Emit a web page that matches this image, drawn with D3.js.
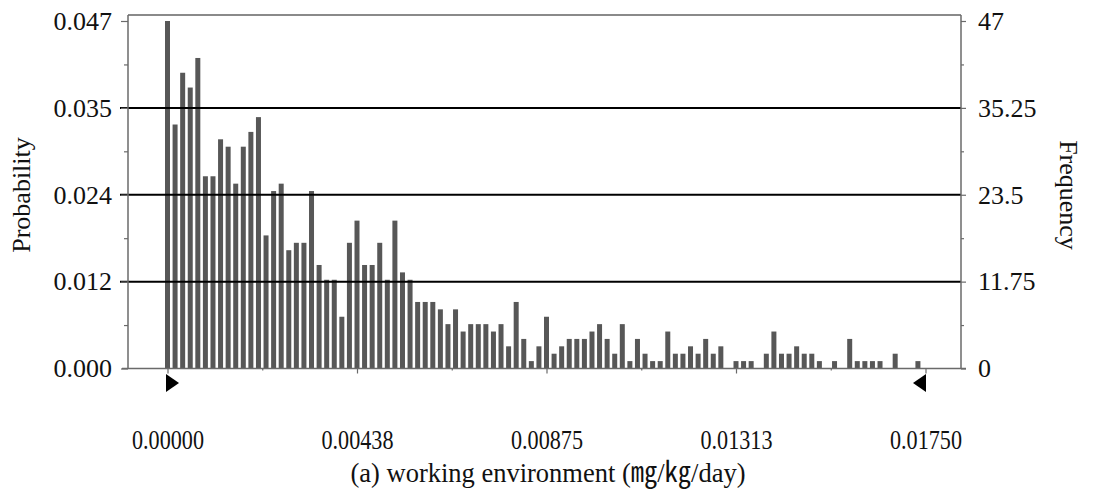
<!DOCTYPE html>
<html>
<head>
<meta charset="utf-8">
<script src="https://cdn.jsdelivr.net/npm/d3@7"></script>
<style>
  body { margin: 0; background: #fff; }
  text { font-family: "Liberation Serif", "Times New Roman", "Noto Sans CJK KR", serif; fill: #111; }
</style>
</head>
<body>
<div id="chart"></div>
<script>
// histogram of 100 bins, frequency per bin
var binWidth = 0.000175;
var frequencies = [
  47, 33, 40, 38, 42, 26, 26, 31, 30, 25,
  30, 32, 34, 18, 24, 25, 16, 17, 17, 24,
  14, 12, 12, 7, 17, 20, 14, 14, 17, 12,
  20, 13, 12, 9, 9, 9, 8, 6, 8, 5,
  6, 6, 6, 5, 6, 3, 9, 4, 1, 3,
  7, 2, 3, 4, 4, 4, 5, 6, 4, 2,
  6, 1, 4, 2, 1, 1, 5, 2, 2, 3,
  2, 4, 2, 3, 0, 1, 1, 1, 0, 2,
  5, 2, 2, 3, 2, 2, 1, 0, 1, 0,
  4, 1, 1, 1, 1, 0, 2, 0, 0, 1
];

var xTickValues = [0, 0.004375, 0.00875, 0.013125, 0.0175];
var xTickLabels = ["0.00000", "0.00438", "0.00875", "0.01313", "0.01750"];
var yTickValues = [0, 11.75, 23.5, 35.25, 47];
var probLabels = ["0.000", "0.012", "0.024", "0.035", "0.047"];
var freqLabels = ["0", "11.75", "23.5", "35.25", "47"];
var gridValues = [11.75, 23.5, 35.25];

var svgWidth = 1093;
var svgHeight = 496;

var plot = { left: 128, right: 961, top: 15, bottom: 368.5 };

var svg = d3.select("#chart")
  .append("svg")
  .attr("width", svgWidth)
  .attr("height", svgHeight);

var xScale = d3.scaleLinear()
  .domain([0, 0.0175])
  .range([167.5, 925.5]);

var yScale = d3.scaleLinear()
  .domain([0, 47])
  .range([plot.bottom, 21]);

// minor tick positions (midpoints)
var yMinor = [5.875, 17.625, 29.375, 41.125];
var xMinor = [0.0021875, 0.0065625, 0.0109375, 0.0153125];

// bars
svg.append("g")
  .selectAll("rect")
  .data(frequencies)
  .enter()
  .append("rect")
  .attr("x", (d, i) => xScale(i * binWidth) - 2.5)
  .attr("y", d => yScale(d))
  .attr("width", 5)
  .attr("height", d => yScale(0) - yScale(d))
  .attr("fill", "#575757");

// grid lines
svg.append("g")
  .selectAll("line")
  .data(gridValues)
  .enter()
  .append("line")
  .attr("x1", 120)
  .attr("x2", plot.right)
  .attr("y1", d => yScale(d))
  .attr("y2", d => yScale(d))
  .attr("stroke", "#000")
  .attr("stroke-width", 2);

// frame top
svg.append("line")
  .attr("x1", plot.left).attr("x2", plot.right)
  .attr("y1", plot.top).attr("y2", plot.top)
  .attr("stroke", "#8a8a8a").attr("stroke-width", 2);

// left axis
var leftAxis = d3.axisLeft(yScale)
  .tickValues(yTickValues)
  .tickSize(7)
  .tickPadding(9)
  .tickFormat((d, i) => probLabels[i]);

var leftG = svg.append("g")
  .attr("transform", `translate(${plot.left}, 0)`)
  .call(leftAxis);

svg.append("g")
  .attr("transform", `translate(${plot.left}, 0)`)
  .call(d3.axisLeft(yScale).tickValues(yMinor).tickSize(4).tickFormat(""));

// right axis
var rightAxis = d3.axisRight(yScale)
  .tickValues(yTickValues)
  .tickSize(5)
  .tickPadding(12)
  .tickFormat((d, i) => freqLabels[i]);

var rightG = svg.append("g")
  .attr("transform", `translate(${plot.right}, 0)`)
  .call(rightAxis);

svg.append("g")
  .attr("transform", `translate(${plot.right}, 0)`)
  .call(d3.axisRight(yScale).tickValues(yMinor).tickSize(3).tickFormat(""));

// bottom axis
var bottomAxis = d3.axisBottom(xScale)
  .tickValues(xTickValues)
  .tickSize(5)
  .tickPadding(56)
  .tickFormat((d, i) => xTickLabels[i]);

var bottomG = svg.append("g")
  .attr("transform", `translate(0, ${plot.bottom})`)
  .call(bottomAxis);

svg.append("g")
  .attr("transform", `translate(0, ${plot.bottom})`)
  .call(d3.axisBottom(xScale).tickValues(xMinor).tickSize(2).tickFormat(""));

svg.selectAll(".domain").remove();

svg.append("line")
  .attr("x1", 122).attr("x2", 966)
  .attr("y1", plot.bottom).attr("y2", plot.bottom)
  .attr("stroke", "#6a6a6a").attr("stroke-width", 1.5);

svg.append("line")
  .attr("x1", plot.left).attr("x2", plot.left)
  .attr("y1", plot.top).attr("y2", plot.bottom)
  .attr("stroke", "#6a6a6a").attr("stroke-width", 1.5);

svg.append("line")
  .attr("x1", plot.right).attr("x2", plot.right)
  .attr("y1", plot.top).attr("y2", plot.bottom)
  .attr("stroke", "#6a6a6a").attr("stroke-width", 1.5);

svg.selectAll(".tick line").attr("stroke", "#6a6a6a").attr("stroke-width", 1.2);

svg.selectAll(".tick text")
  .attr("font-size", "26px")
  .attr("fill", "#111");

bottomG.selectAll(".tick text")
  .attr("font-size", "28px")
  .attr("textLength", 72)
  .attr("lengthAdjust", "spacingAndGlyphs");

// range markers
var tri = svg.append("g");
tri.append("path")
  .attr("d", `M${xScale(0) - 1.5},374 L${xScale(0) - 1.5},392 L${xScale(0) + 11.5},383 Z`)
  .attr("fill", "#000");
tri.append("path")
  .attr("d", `M${xScale(0.0175) + 0.5},374 L${xScale(0.0175) + 0.5},392 L${xScale(0.0175) - 12.5},383 Z`)
  .attr("fill", "#000");

// axis titles
svg.append("text")
  .attr("transform", "translate(30, 195) rotate(-90)")
  .attr("text-anchor", "middle")
  .attr("font-size", "26px")
  .text("Probability");

svg.append("text")
  .attr("transform", "translate(1060, 195) rotate(90)")
  .attr("text-anchor", "middle")
  .attr("font-size", "26px")
  .text("Frequency");

svg.append("text")
  .attr("x", 548)
  .attr("y", 482)
  .attr("text-anchor", "middle")
  .attr("font-size", "28px")
  .attr("textLength", 395)
  .attr("lengthAdjust", "spacingAndGlyphs")
  .text("(a) working environment (㎎/㎏/day)");
</script>
</body>
</html>
